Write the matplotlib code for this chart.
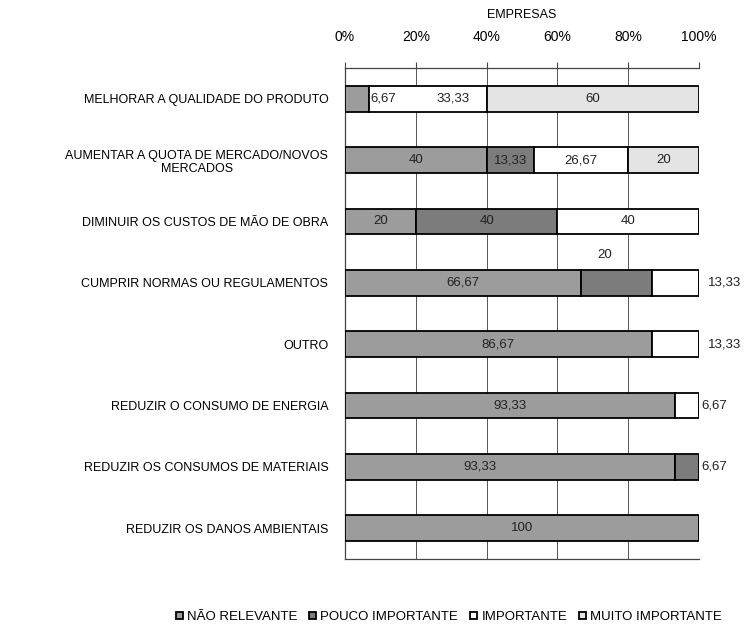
import numpy as np
import matplotlib.pyplot as plt

plt.rcParams["font.family"] = ["Liberation Sans", "DejaVu Sans"]

categories = [
    "MELHORAR A QUALIDADE DO PRODUTO",
    "AUMENTAR A QUOTA DE MERCADO/NOVOS\nMERCADOS",
    "DIMINUIR OS CUSTOS DE MÃO DE OBRA",
    "CUMPRIR NORMAS OU REGULAMENTOS",
    "OUTRO",
    "REDUZIR O CONSUMO DE ENERGIA",
    "REDUZIR OS CONSUMOS DE MATERIAIS",
    "REDUZIR OS DANOS AMBIENTAIS",
]
series_names = ["NÃO RELEVANTE", "POUCO IMPORTANTE", "IMPORTANTE", "MUITO IMPORTANTE"]
nao_relevante = [6.67, 40, 20, 66.67, 86.67, 93.33, 93.33, 100]
pouco_importante = [0, 13.33, 40, 20, 0, 0, 6.67, 0]
importante = [33.33, 26.67, 40, 13.33, 13.33, 6.67, 0, 0]
muito_importante = [60, 20, 0, 0, 0, 0, 0, 0]
x_ticks = [0, 20, 40, 60, 80, 100]

colors = ["#9c9c9c", "#7c7c7c", "#ffffff", "#e4e4e4"]

# labels that were moved by hand in the original: (row, series) -> (x, dy, ha)
label_moves = {
    (0, 0): ("end", 0.0, "left"),
    (0, 2): (30.5, 0.0, "center"),
    (3, 1): (73.4, -0.45, "center"),
    (3, 2): (102.5, 0.0, "left"),
    (4, 2): (102.5, 0.0, "left"),
    (5, 2): (100.6, 0.0, "left"),
    (6, 1): (100.6, 0.0, "left"),
    (6, 0): (38.0, 0.0, "center"),
}


def fmt(v):
    return f"{v:g}".replace(".", ",")


fig = plt.figure(figsize=(7.48, 6.33), dpi=100)
ax = fig.add_axes([0.4612, 0.1169, 0.4733, 0.7757])

data = np.array([nao_relevante, pouco_importante, importante, muito_importante])
y = np.arange(len(categories))
left = np.zeros(len(categories))
handles = []
for s, vals in enumerate(data):
    h = ax.barh(y, vals, left=left, height=0.42, color=colors[s],
                edgecolor="black", linewidth=1.3, label=series_names[s], zorder=3)
    handles.append(h)
    for i, v in enumerate(vals):
        if v <= 0:
            continue
        xc, dy, ha = left[i] + v / 2, 0.0, "center"
        if (i, s) in label_moves:
            mx, dy, ha = label_moves[(i, s)]
            xc = left[i] + v + 0.6 if mx == "end" else mx
        ax.text(xc, y[i] + dy, fmt(v), ha=ha, va="center", fontsize=9.5,
                color="#222222", zorder=4, clip_on=False)
    left += vals

ax.set_xlim(0, 100)
ax.set_ylim(len(categories) - 0.5, -0.5)
ax.xaxis.tick_top()
ax.xaxis.set_label_position("top")
ax.set_xticks(x_ticks)
ax.set_xticklabels([f"{t}%" for t in x_ticks], fontsize=10)
ax.tick_params(axis="x", length=4, pad=13, color="#444444")
ax.set_xlabel("EMPRESAS", fontsize=9, labelpad=9)
ax.set_yticks(y)
ax.set_yticklabels(categories, fontsize=9, multialignment="center")
ax.tick_params(axis="y", length=0, pad=12)
ax.grid(axis="x", color="#555555", linewidth=0.7, zorder=0)
for sp in ["top", "bottom", "left"]:
    ax.spines[sp].set_color("#444444")
    ax.spines[sp].set_linewidth(0.9)
ax.spines["right"].set_visible(False)

fig.legend(handles=handles, labels=series_names, loc="center", ncol=4,
           bbox_to_anchor=(0.6, 0.025), frameon=False, fontsize=9.5,
           handlelength=0.55, handleheight=0.55, handletextpad=0.3, columnspacing=0.9)

fig.savefig("out.png", dpi=100)
